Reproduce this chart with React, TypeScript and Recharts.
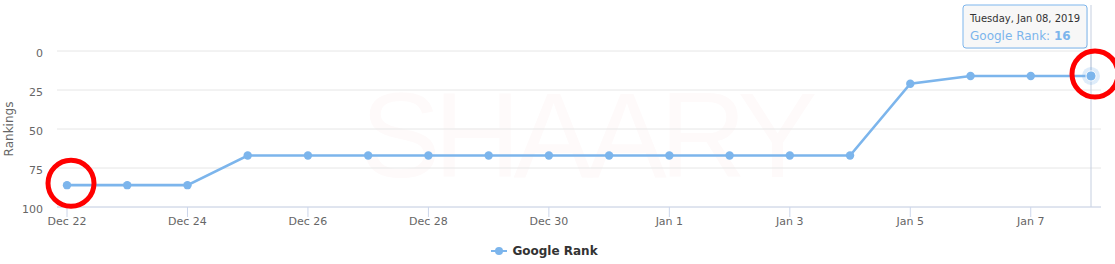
import React from "react";
import {
  LineChart,
  Line,
  XAxis,
  YAxis,
  CartesianGrid,
  Legend,
  ReferenceDot,
  ReferenceLine,
} from "recharts";

const dates = [
  "2018-12-22", "2018-12-23", "2018-12-24", "2018-12-25", "2018-12-26",
  "2018-12-27", "2018-12-28", "2018-12-29", "2018-12-30", "2018-12-31",
  "2019-01-01", "2019-01-02", "2019-01-03", "2019-01-04", "2019-01-05",
  "2019-01-06", "2019-01-07", "2019-01-08",
];
const googleRank = [86, 86, 86, 67, 67, 67, 67, 67, 67, 67, 67, 67, 67, 67, 21, 16, 16, 16];
const yTicks = [0, 25, 50, 75, 100];
const highlighted = ["2018-12-22", "2019-01-08"];
const hovered = "2019-01-08";

const MONTHS = ["Jan", "Feb", "Mar", "Apr", "May", "Jun", "Jul", "Aug", "Sep", "Oct", "Nov", "Dec"];
const WEEKDAYS = ["Sunday", "Monday", "Tuesday", "Wednesday", "Thursday", "Friday", "Saturday"];

const FONT = '"Lucida Grande", "DejaVu Sans", Verdana, sans-serif';
const BLUE = "#7cb5ec";
const CROSS = "#c5cfe0";

const data = dates.map((d, i) => ({ date: d, rank: googleRank[i] }));
const rankOf = (d: string) => googleRank[dates.indexOf(d)];

function shortDate(iso: string) {
  const dt = new Date(iso + "T00:00:00Z");
  return `${MONTHS[dt.getUTCMonth()]} ${dt.getUTCDate()}`;
}

function longDate(iso: string) {
  const dt = new Date(iso + "T00:00:00Z");
  const dd = String(dt.getUTCDate()).padStart(2, "0");
  return `${WEEKDAYS[dt.getUTCDay()]}, ${MONTHS[dt.getUTCMonth()]} ${dd}, ${dt.getUTCFullYear()}`;
}

// hover state drawn as a static overlay: halo, crosshair stub and tooltip box
const hoverShape = (props: any) => {
  const { cx, cy } = props;
  const bx = cx - 128;
  const by = 5;
  return (
    <g>
      <line x1={cx} y1={by} x2={cx} y2={cy} stroke={CROSS} strokeWidth={1} />
      <circle cx={cx} cy={cy} r={9} fill={BLUE} fillOpacity={0.25} />
      <circle cx={cx} cy={cy} r={5} fill={BLUE} stroke="#fff" strokeWidth={1} />
      <rect x={bx + 1} y={by + 1} width={124} height={43} rx={3} fill="#000" fillOpacity={0.05} />
      <rect x={bx} y={by} width={124} height={43} rx={3} fill="#f7f7f7" fillOpacity={0.92} stroke={BLUE} strokeWidth={1} />
      <text x={bx + 7} y={by + 17} fontSize={10} fill="#333" fontFamily={FONT}>
        {longDate(hovered)}
      </text>
      <text x={bx + 7} y={by + 35} fontSize={12} fill={BLUE} fontFamily={FONT}>
        Google Rank: <tspan fontWeight="bold">{rankOf(hovered)}</tspan>
      </text>
    </g>
  );
};

function LegendBox() {
  return (
    <div
      style={{
        display: "flex",
        justifyContent: "center",
        alignItems: "center",
        height: 20,
        paddingLeft: 4,
        paddingRight: 16,
        fontFamily: FONT,
      }}
    >
      <svg width={16} height={10} style={{ marginRight: 5 }}>
        <line x1={0} y1={5} x2={16} y2={5} stroke={BLUE} strokeWidth={2} />
        <circle cx={8} cy={5} r={4} fill={BLUE} />
      </svg>
      <span style={{ fontSize: 12, fontWeight: "bold", color: "#333" }}>Google Rank</span>
    </div>
  );
}

const ring = (props: any) => (
  <circle cx={props.cx + 4} cy={props.cy - 2} r={23} fill="none" stroke="#f00" strokeWidth={5} />
);

export default function App() {
  return (
    <div style={{ position: "absolute", left: 0, top: 0, width: 1115, height: 264, background: "#fff" }}>
      {/* faint watermark behind the chart */}
      <svg width={1115} height={264} style={{ position: "absolute", left: 0, top: 0 }}>
        <text
          x={589}
          y={177}
          textAnchor="middle"
          fontSize={120}
          fontFamily='"Liberation Sans", Arial, sans-serif'
          fill="#fefafa"
          textLength={457}
          lengthAdjust="spacing"
        >
          SHAARY
        </text>
      </svg>
      <div style={{ position: "absolute", left: 0, top: 0 }}>
        <LineChart
          width={1115}
          height={264}
          data={data}
          margin={{ top: 51, right: 14, left: 0, bottom: 3 }}
        >
          <CartesianGrid vertical={false} stroke="#e6e6e6" />
          <XAxis
            dataKey="date"
            tickFormatter={shortDate}
            interval={1}
            padding={{ left: 10, right: 10 }}
            axisLine={{ stroke: "#ccd6eb" }}
            tickLine={{ stroke: "#ccd6eb" }}
            tickSize={10}
            tickMargin={0}
            height={34}
            tick={{ fontSize: 11, fill: "#666", fontFamily: FONT }}
          />
          <YAxis
            reversed
            domain={[0, 100]}
            ticks={yTicks}
            axisLine={false}
            tickLine={false}
            tickSize={0}
            tickMargin={14}
            width={57}
            tick={{ fontSize: 11, fill: "#666", fontFamily: FONT, dy: 2 }}
            label={{
              value: "Rankings",
              angle: -90,
              position: "insideLeft",
              dx: 4,
              style: { fontSize: 12, fill: "#666", fontFamily: FONT, textAnchor: "middle" },
            }}
          />
          <ReferenceLine x={hovered} stroke={CROSS} strokeWidth={1} />
          <Legend verticalAlign="bottom" content={<LegendBox />} />
          <Line
            type="linear"
            dataKey="rank"
            name="Google Rank"
            stroke={BLUE}
            strokeWidth={2.6}
            dot={{ r: 4.2, fill: BLUE, stroke: "none" }}
            isAnimationActive={false}
          />
          <ReferenceDot x={hovered} y={rankOf(hovered)} ifOverflow="visible" shape={hoverShape} />
          {highlighted.map((d) => (
            <ReferenceDot key={d} x={d} y={rankOf(d)} ifOverflow="visible" shape={ring} />
          ))}
        </LineChart>
      </div>
    </div>
  );
}
